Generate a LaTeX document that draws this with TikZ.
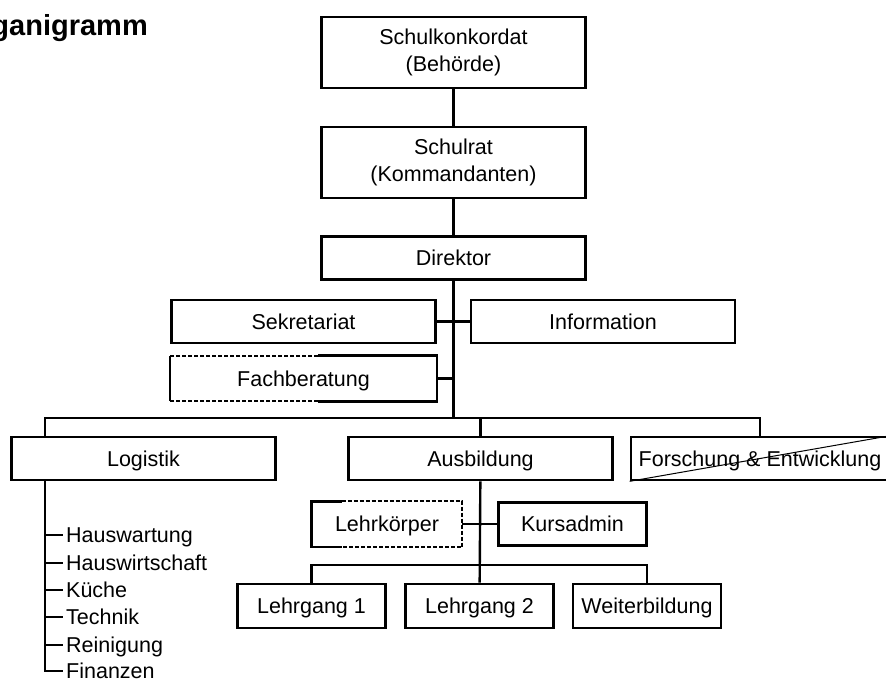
\documentclass[tikz,border=0pt]{standalone}
\usepackage{fontspec}
\setmainfont{Liberation Sans}
\usetikzlibrary{calc}
\begin{document}
\begin{tikzpicture}[x=1pt, y=-1pt,
    every node/.style={font=\fontsize{21.5}{27}\selectfont, inner sep=0pt},
    box/.style={draw, line width=2.6pt, minimum height=43, align=center},
    one/.style={text height=15.5, text depth=0},
    wide/.style={minimum width=264},
    small/.style={minimum width=148},
    item/.style={anchor=west, text height=15, text depth=0, inner xsep=3pt},
    link/.style={line width=2.4pt},
    boxline/.style={line width=2.6pt},
    dashline/.style={line width=2pt, dash pattern=on 4pt off 2pt}]
    \useasboundingbox (0,0) rectangle (886,680);
    \node (title) at (148, 35) [anchor=base east, font=\bfseries\fontsize{29}{32}\selectfont] {Organigramm};
    \node (konk) at (453.5, 52.5) [box, wide, minimum height=71] {Schulkonkordat\\(Behörde)};
    \node (rat) at (453.5, 162.5) [box, wide, minimum height=71] {Schulrat\\(Kommandanten)};
    \node (dir) at (453.5, 258) [box, one, wide] {Direktor};
    \node (sek) at (303.5, 321.5) [box, one, wide] {Sekretariat};
    \node (info) at (603, 321.5) [box, one, wide] {Information};
    \node (fach) at (303.5, 378.5) [box, one, wide, draw=none] {Fachberatung};
    \node (log) at (143.5, 458.5) [box, one, wide] {Logistik};
    \node (ausb) at (480.5, 458.5) [box, one, wide] {Ausbildung};
    \node (fe) at (760, 458.5) [box, one, minimum width=258] {Forschung \& Entwicklung};
    \node (lehr) at (387, 524) [box, one, small, draw=none] {Lehrkörper};
    \node (kurs) at (572.5, 524) [box, one, small] {Kursadmin};
    \node (lg1) at (311.5, 606) [box, one, small, minimum height=44] {Lehrgang 1};
    \node (lg2) at (479.5, 606) [box, one, small, minimum height=44] {Lehrgang 2};
    \node (wb) at (647, 606) [box, one, small, minimum height=44] {Weiterbildung};
    \node (hw) at (63, 535) [item] {Hauswartung};
    \node (hws) at (63, 563) [item] {Hauswirtschaft};
    \node (kue) at (63, 590) [item] {Küche};
    \node (tec) at (63, 617) [item] {Technik};
    \node (rei) at (63, 645) [item] {Reinigung};
    \node (fin) at (63, 671) [item] {Finanzen};
    \coordinate (lw) at (45, 418);
    \coordinate (b2) at (480, 565);
    % partly dashed borders
    \draw[boxline] ($(fach.north west)+(148,0)$) -- (fach.north east) -- (fach.south east) -- ($(fach.south west)+(148,0)$);
    \draw[dashline] ($(fach.north west)+(148,0)$) -- (fach.north west);
    \draw[dashline] ($(fach.south west)+(148,0)$) -- (fach.south west);
    \draw[line width=2pt] (fach.north west) -- (fach.south west);
    \draw[boxline] ($(lehr.north west)+(30,0)$) -- (lehr.north west) -- (lehr.south west) -- ($(lehr.south west)+(30,0)$);
    \draw[dashline] ($(lehr.north west)+(30,0)$) -- (lehr.north east) -- (lehr.south east) -- ($(lehr.south west)+(30,0)$);
    \draw[line width=1pt] (fe.south west) -- (fe.north east);
    % lines
    \draw[link] (konk) to (rat);
    \draw[link] (rat) to (dir);
    \draw[link] (dir) to (dir |- lw);
    \draw[link] (sek) to (info);
    \draw[link] (fach.east) to (fach.east -| dir.south);
    \draw[link] (log.north -| lw) -- (lw) -| (fe.north);
    \draw[link] (ausb) to (ausb |- lw);
    \draw[link] (log.south -| lw) |- (fin.west);
    \draw[link] (lw |- hw.west) -- (hw.west);
    \draw[link] (lw |- hws.west) -- (hws.west);
    \draw[link] (lw |- kue.west) -- (kue.west);
    \draw[link] (lw |- tec.west) -- (tec.west);
    \draw[link] (lw |- rei.west) -- (rei.west);
    \draw[link] (ausb) to (lg2);
    \draw[link] (lehr) to (kurs);
    \draw[link] (lg1.north) |- (b2) -| (wb.north);
  \end{tikzpicture}
\end{document}
